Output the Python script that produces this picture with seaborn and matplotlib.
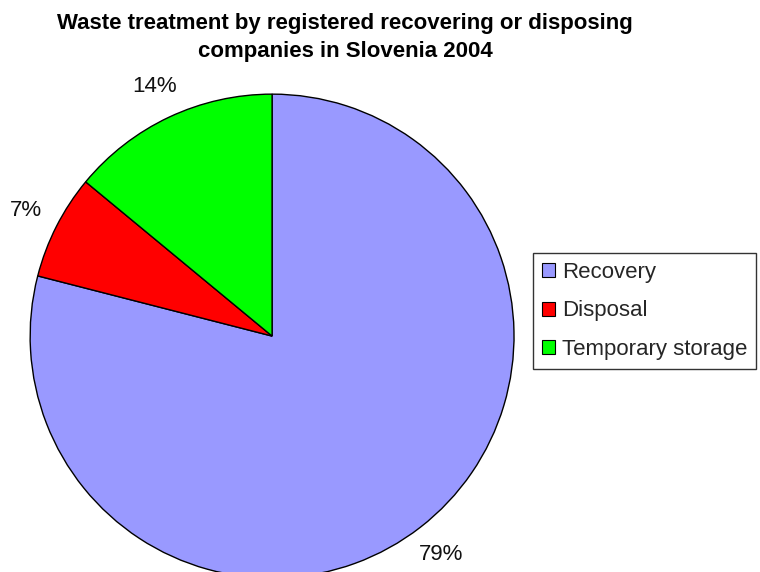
import matplotlib
matplotlib.use("Agg")
import matplotlib.pyplot as plt
import seaborn as sns

# Waste treatment shares, Slovenia 2004
categories = ["Recovery", "Disposal", "Temporary storage"]
shares = [79, 7, 14]
colors = ["#9999FF", "#FF0000", "#00FF00"]

sns.set_theme(style="white")
plt.rcParams['font.family'] = ['Liberation Sans', 'DejaVu Sans']

fig = plt.figure(figsize=(7.6, 5.72), dpi=100)
ax = fig.add_axes([-0.056, -0.1374, 0.828, 1.0997])

wedges, texts, autotexts = ax.pie(
    shares, colors=colors, startangle=90, counterclock=False,
    autopct='%1.0f%%', pctdistance=1.14,
    wedgeprops=dict(edgecolor='black', linewidth=1),
    textprops=dict(fontsize=16, color='#111111'))
for t in autotexts:
    t.set_clip_on(False)
ax.set_xlim(-1.3, 1.3)
ax.set_ylim(-1.3, 1.3)
ax.set_aspect('equal')
ax.set_position([-0.056, -0.1374, 0.828, 1.0997])

fig.text(0.454, 0.977, "Waste treatment by registered recovering or disposing\ncompanies in Slovenia 2004",
         ha='center', va='top', fontsize=16, fontweight='bold', color='black', linespacing=1.45)

leg = fig.legend(wedges, categories, loc='upper left', bbox_to_anchor=(0.701, 0.558),
                 frameon=True, fancybox=False, edgecolor='black', fontsize=16,
                 handlelength=0.6, handleheight=0.6, handletextpad=0.3,
                 labelspacing=0.8, borderpad=0.4, borderaxespad=0)
leg.get_frame().set_linewidth(1)
for h in leg.legend_handles:
    h.set_linewidth(0.8)

fig.savefig("out.png", dpi=100)
